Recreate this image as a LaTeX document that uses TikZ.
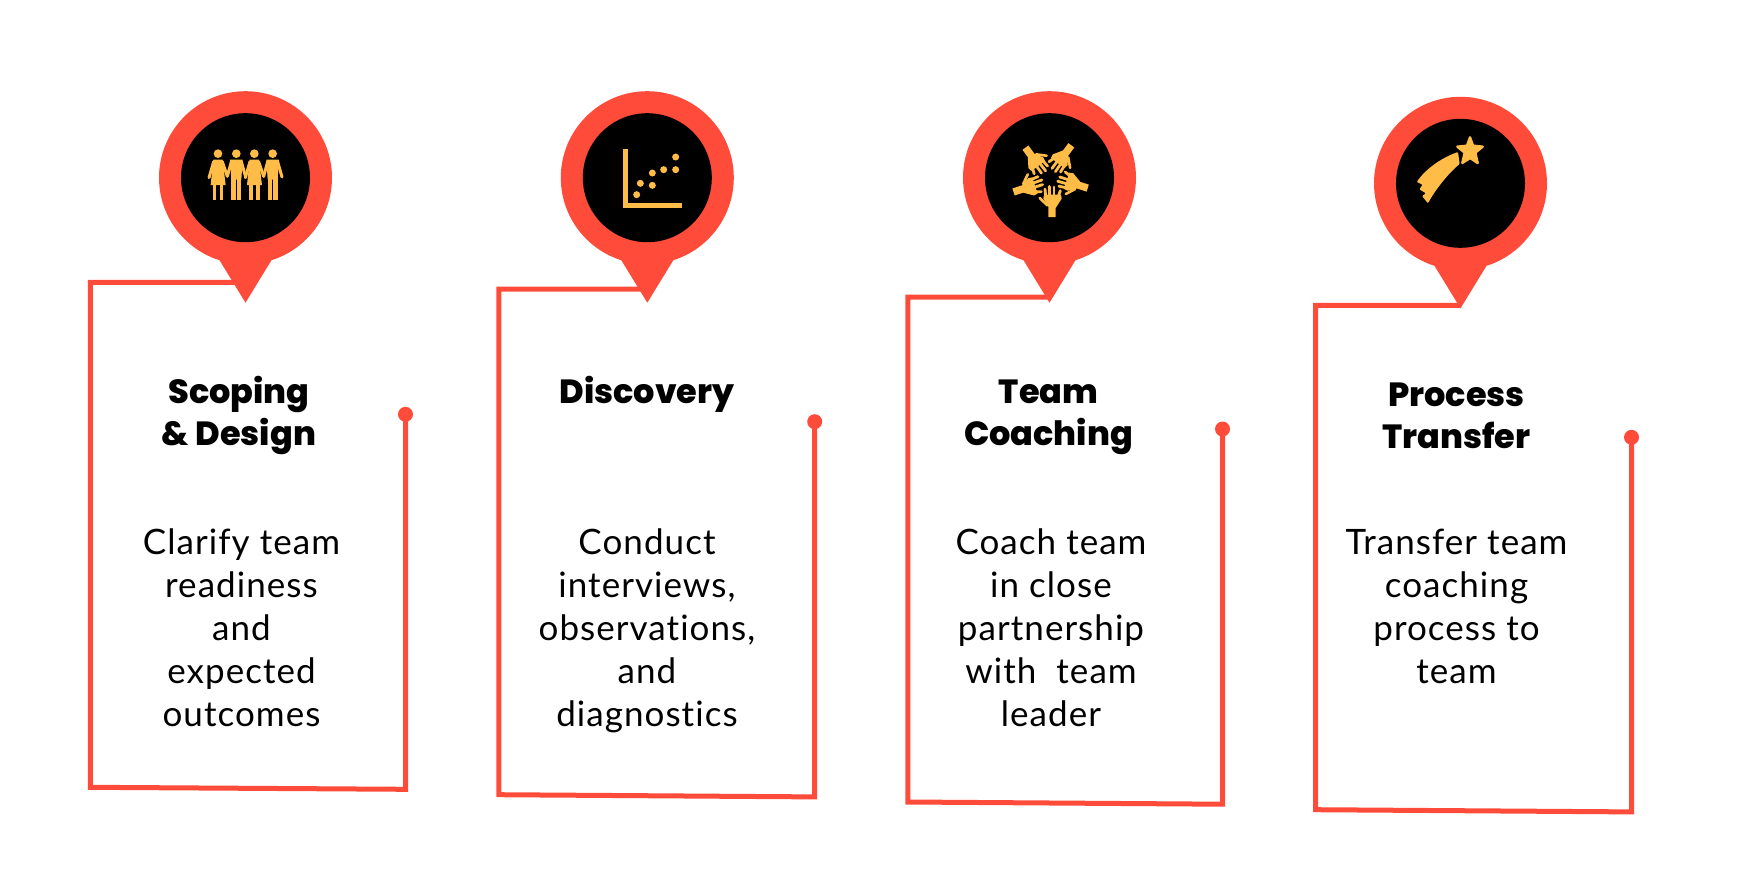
\documentclass[tikz,border=0pt]{standalone}
\usepackage{fontspec}
\setmainfont{Lato}[LetterSpace=3,Ligatures=NoCommon]
\newfontfamily\titlefont{Poppins ExtraBold}
\definecolor{pinred}{HTML}{FF4B3A}
\definecolor{gold}{HTML}{FFBC47}
\newcommand{\firstline}{\rule{0pt}{30pt}}
\tikzset{
  wire/.style={draw=pinred,line width=5pt,miter limit=10},
  enddot/.style={circle,fill=pinred,minimum size=15pt,inner sep=0pt},
  pinouter/.style={circle,fill=pinred,minimum size=173pt,inner sep=0pt},
  pininner/.style={circle,fill=black,minimum size=129pt,inner sep=0pt},
  titletext/.style={anchor=north,inner sep=0pt,align=center,font=\titlefont\fontsize{33.5}{42.7}\selectfont},
  bodytext/.style={anchor=north,inner sep=0pt,align=center,font=\fontsize{35}{43}\selectfont},
  woman/.pic={
    \fill[gold] (0,-72) circle (13);
    \fill[gold] (-14,-54) -- (14,-54) -- (23,22) -- (-22,22) -- cycle;
    \fill[gold] (-16,22) rectangle (-5,68);
    \fill[gold] (5,22) rectangle (16,68);
    \draw[gold,line width=3pt,line cap=round] (-13,-48) -- (-27,0);
    \draw[gold,line width=3pt,line cap=round] (13,-48) -- (28,-4);
  },
  man/.pic={
    \fill[gold] (0,-72) circle (13);
    \fill[gold] (-19,-54) -- (19,-54) -- (15,6) -- (-15,6) -- cycle;
    \fill[gold] (-15,0) rectangle (-2,68);
    \fill[gold] (2,0) rectangle (15,68);
    \draw[gold,line width=3pt,line cap=round] (-15,-48) -- (-27,-4);
    \draw[gold,line width=3pt,line cap=round] (15,-48) -- (28,-2);
  },
  hand/.pic={
    \fill[gold] (-5,117) -- (17,117) -- (17,90) -- (35,62) -- (33,50) -- (-18,50) -- (-20,62) -- (-5,86) -- cycle;
    \draw[gold,line width=2.8pt,line cap=round] (-13,55) -- (-15,33);
    \draw[gold,line width=2.8pt,line cap=round] (-1,55) -- (-2,25);
    \draw[gold,line width=2.8pt,line cap=round] (12,55) -- (12,27);
    \draw[gold,line width=2.8pt,line cap=round] (24,58) -- (31,38);
    \draw[gold,line width=2.6pt,line cap=round] (-8,82) -- (-31,60);
  }
}
\newcommand{\droppin}[4]{% name, x, y, tip y
  \fill[pinred] (#2-26,#3+82.5) -- (#2,#4) -- (#2+26,#3+82.5) -- cycle;
  \node[pinouter] (#1) at (#2,#3) {};
  \node[pininner] (#1in) at (#2,#3) {};
}
\begin{document}
\begin{tikzpicture}[x=1pt,y=-1pt]
\useasboundingbox (0,0) rectangle (1738,868);
% frames
\coordinate (tip1) at (245.5,282.3);
\coordinate (tl1) at (90.3,282.3); \coordinate (bl1) at (90.3,787.3); \coordinate (br1) at (405.5,789.3);
\node[enddot] (dot1) at (405.5,414.3) {};
\draw[wire] (dot1.center) -- (br1) -- (bl1) -- (tl1) -- (tip1);
\coordinate (tip2) at (647.3,289);
\coordinate (tl2) at (498.8,289); \coordinate (bl2) at (498.8,794.7); \coordinate (br2) at (814.7,796.9);
\node[enddot] (dot2) at (814.7,421.7) {};
\draw[wire] (dot2.center) -- (br2) -- (bl2) -- (tl2) -- (tip2);
\coordinate (tip3) at (1049.5,297);
\coordinate (tl3) at (907.8,297); \coordinate (bl3) at (907.8,802); \coordinate (br3) at (1222.5,804.2);
\node[enddot] (dot3) at (1222.5,429) {};
\draw[wire] (dot3.center) -- (br3) -- (bl3) -- (tl3) -- (tip3);
\coordinate (tip4) at (1460.5,305.3);
\coordinate (tl4) at (1315.7,305.3); \coordinate (bl4) at (1315.7,809.7); \coordinate (br4) at (1631.5,811.9);
\node[enddot] (dot4) at (1631.5,437.3) {};
\draw[wire] (dot4.center) -- (br4) -- (bl4) -- (tl4) -- (tip4);
% pins
\droppin{pin1}{245.5}{177.7}{302.7}
\droppin{pin2}{647.3}{177.7}{302.7}
\droppin{pin3}{1049.5}{177.7}{302.7}
\droppin{pin4}{1460.5}{183.3}{308.3}
% icon 1: people
\begin{scope}[shift={(140,80)},scale=1/3]
  \pic[scale=1/3] at (234,293) {woman};
  \pic[scale=1/3] at (289,293) {man};
  \pic[scale=1/3] at (343,293) {woman};
  \pic[scale=1/3] at (398,293) {man};
\end{scope}
% icon 2: scatter
\begin{scope}[shift={(540,80)},scale=1/3]
  \fill[gold] (249,207) rectangle (264,383);
  \fill[gold] (249,368) rectangle (426,383);
  \foreach \px/\py in {290/344,301/310,337/316,337/279,371/269,407/269,407/231}
    \fill[gold] (\px,\py) circle (10.5);
\end{scope}
% icon 3: hands
\begin{scope}[shift={(950,100)},scale=1/3]
  \foreach \a in {0,72,144,216,288}
    \pic[rotate=\a,scale=1/3] at (300,234) {hand};
\end{scope}
% icon 4: shooting star
\begin{scope}[shift={(1360,90)},scale=1/3]
  \fill[gold,draw=gold,line width=2.4pt,line join=round]
    (330,142) -- (339,167) -- (368,170) -- (346,188) -- (353,219) -- (330,204) -- (307,219) -- (314,188) -- (292,170) -- (321,167) -- cycle;
  \fill[gold,rounded corners=1pt]
    (294,186) .. controls (240,205) and (195,240) .. (170,276)
    -- (188,284) -- (178,298) -- (198,310) -- (186,318) -- (204,340)
    .. controls (225,300) and (265,250) .. (299,222) -- cycle;
\end{scope}
% texts
\node[titletext] (title1) at (239,373) {\firstline Scoping\\\& Design};
\node[bodytext] (body1) at (241.5,524) {\firstline Clarify team\\readiness\\and\\expected\\outcomes};
\node[titletext] (title2) at (647,373) {\firstline Discovery};
\node[bodytext] (body2) at (647,524) {\firstline Conduct\\interviews,\\observations,\\and\\diagnostics};
\node[titletext] (title3) at (1048.5,373) {\firstline Team\\Coaching};
\node[bodytext] (body3) at (1051,524) {\firstline Coach team\\in close\\partnership\\with\ \ team\\leader};
\node[titletext] (title4) at (1456.5,375.8) {\firstline Process\\Transfer};
\node[bodytext] (body4) at (1456.5,524) {\firstline Transfer team\\coaching\\process to\\team};
\end{tikzpicture}
\end{document}
